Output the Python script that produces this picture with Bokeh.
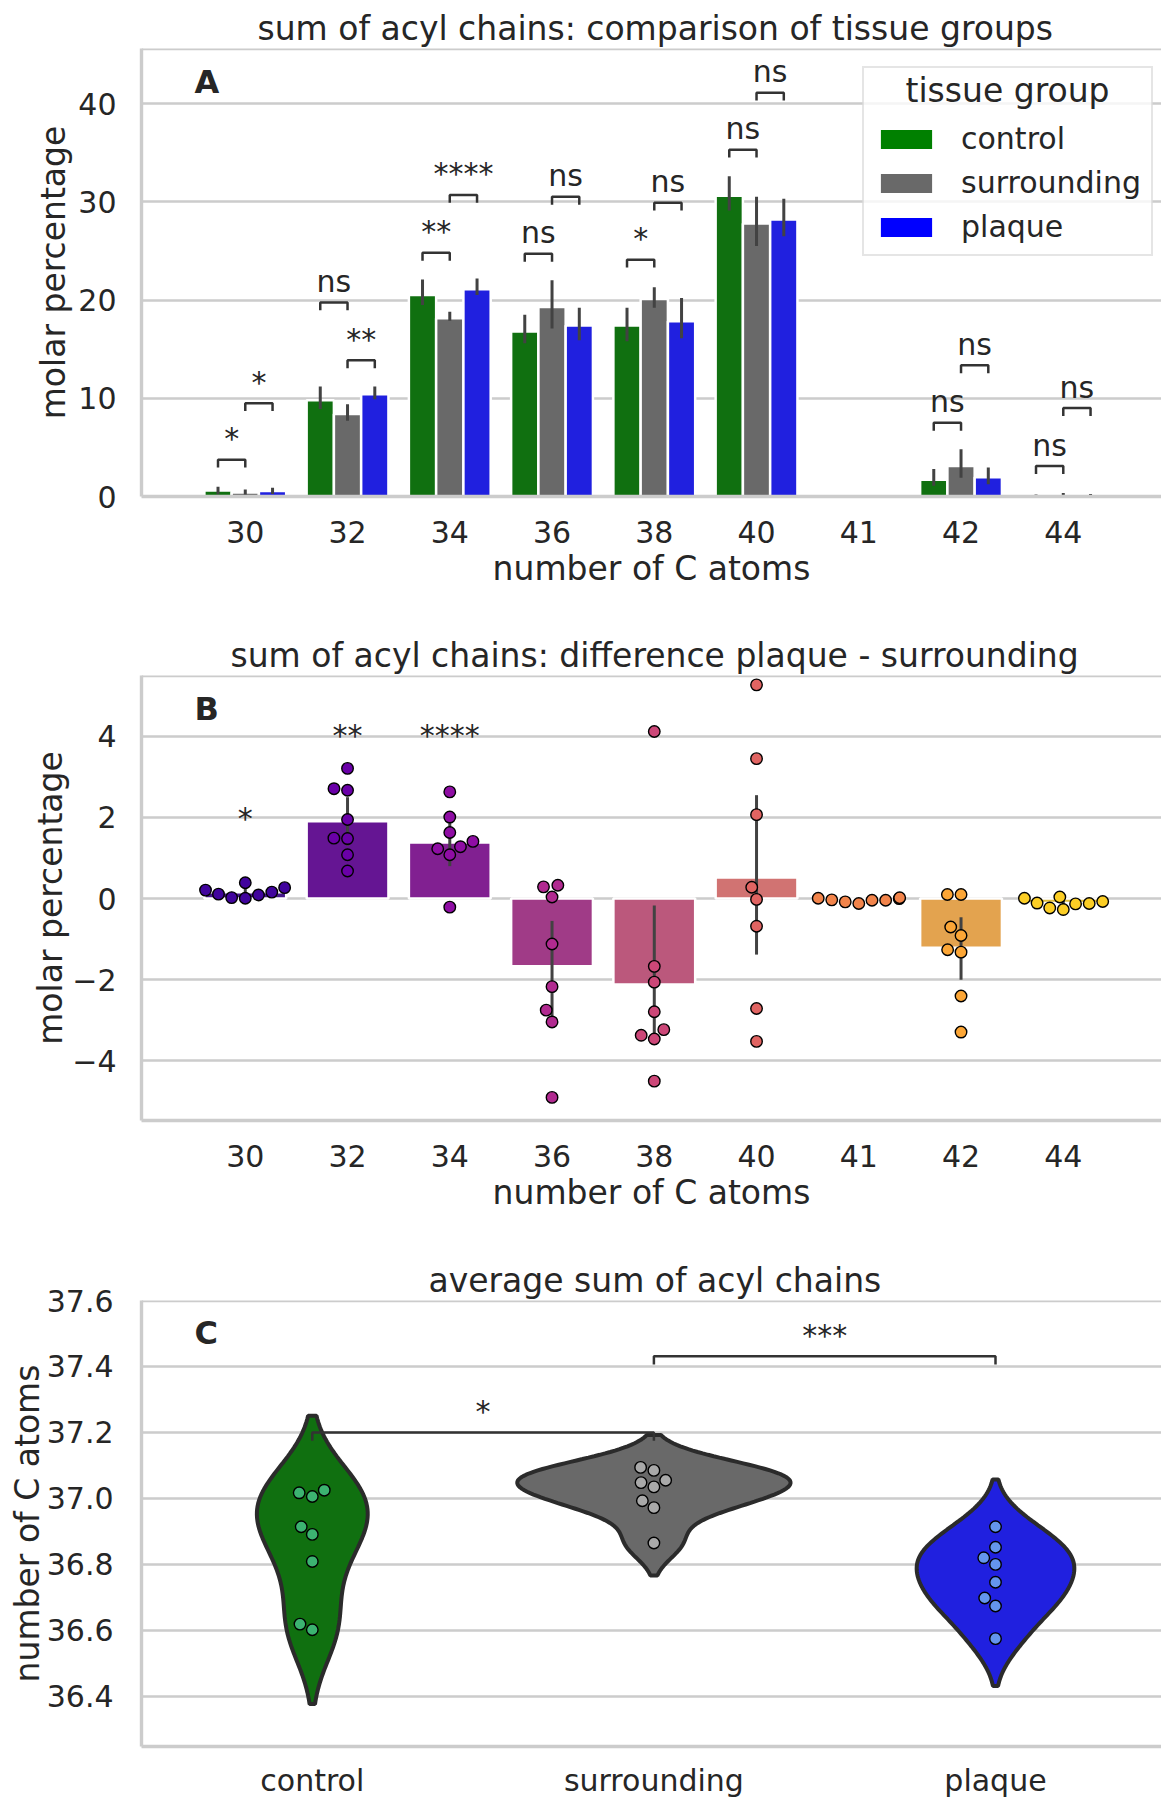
import colorsys
import numpy as np
from bokeh.plotting import figure
from bokeh.layouts import column
from bokeh.models import (FixedTicker, CustomJSTickFormatter, Legend, LegendItem, Span,
                          Range1d, Label)
from bokeh.core.properties import value
from bokeh.embed import file_html
from bokeh.resources import INLINE

# ---------------------------------------------------------------- data
carbon_numbers = ["30", "32", "34", "36", "38", "40", "41", "42", "44"]
tissue_groups = ["control", "surrounding", "plaque"]
legend_title = "tissue group"

# panel A: mean molar percentage with 95% CI per tissue group
control_mean = [0.6, 9.8, 20.5, 16.8, 17.4, 30.6, 0.05, 1.7, 0.1]
control_lo = [0.2, 8.9, 19.5, 15.6, 15.8, 29.1, 0.0, 1.1, 0.0]
control_hi = [1.0, 11.2, 22.1, 18.5, 19.2, 32.6, 0.1, 2.8, 0.2]
surrounding_mean = [0.4, 8.4, 18.15, 19.3, 20.1, 27.8, 0.05, 3.1, 0.15]
surrounding_lo = [0.15, 7.7, 17.9, 17.1, 19.2, 25.5, 0.0, 1.9, 0.05]
surrounding_hi = [0.7, 9.4, 18.8, 22.0, 21.3, 30.5, 0.15, 4.8, 0.35]
plaque_mean = [0.55, 10.4, 21.1, 17.4, 17.85, 28.2, 0.05, 1.95, 0.1]
plaque_lo = [0.25, 9.9, 20.5, 15.9, 16.1, 26.5, 0.0, 1.25, 0.0]
plaque_hi = [0.9, 11.2, 22.2, 19.2, 20.2, 30.3, 0.1, 2.95, 0.25]

# panel A: significance brackets
bracket_cat = ["30", "30", "32", "32", "34", "34", "36", "36", "38", "38",
               "40", "40", "42", "42", "44", "44"]
bracket_from = ["control", "surrounding"] * 8
bracket_to = ["surrounding", "plaque"] * 8
bracket_y = [3.75, 9.5, 19.75, 13.86, 24.8, 30.7, 24.7, 30.5, 24.1, 29.9,
             35.3, 41.1, 7.5, 13.35, 3.1, 9.0]
bracket_text = ["*", "*", "ns", "**", "**", "****", "ns", "ns", "*", "ns",
                "ns", "ns", "ns", "ns", "ns", "ns"]

# panel B: difference plaque - surrounding per sample
diff_values = {
    "30": [0.21, 0.11, 0.025, 0.008, 0.39, 0.09, 0.16, 0.27],
    "32": [3.21, 2.71, 2.67, 1.95, 1.49, 1.48, 1.08, 0.68],
    "34": [2.63, 2.01, 1.63, 1.23, 1.28, 1.41, 1.08, -0.21],
    "36": [0.29, 0.33, 0.04, -1.12, -2.17, -2.75, -3.04, -4.9],
    "38": [4.12, -1.67, -2.06, -2.79, -3.37, -3.23, -3.46, -4.5],
    "40": [5.27, 3.45, 2.07, 0.28, -0.02, -0.68, -2.71, -3.52],
    "41": [0.0, -0.04, -0.08, -0.12, -0.04, -0.03, 0.01, 0.02],
    "42": [0.1, 0.1, -0.7, -0.91, -1.26, -1.32, -2.4, -3.29],
    "44": [0.01, -0.11, -0.23, -0.27, -0.13, -0.12, -0.07, 0.04],
}
diff_ci_lo = [0.08, 1.3, 0.8, -3.05, -3.45, -1.38, -0.07, -2.0, -0.17]
diff_ci_hi = [0.25, 2.5, 1.9, -0.55, -0.17, 2.55, -0.01, -0.46, -0.05]
diff_sig_cat = ["30", "32", "34"]
diff_sig_y = [1.97, 4.03, 4.03]
diff_sig_text = ["*", "**", "****"]

# panel C: average sum of acyl chains per sample
avg_values = {
    "control": [37.017, 37.006, 37.025, 36.914, 36.891, 36.809, 36.619, 36.602],
    "surrounding": [37.094, 37.085, 37.055, 37.048, 37.035, 36.993, 36.972, 36.865],
    "plaque": [36.914, 36.852, 36.820, 36.800, 36.746, 36.698, 36.674, 36.575],
}
c_bracket_from = ["control", "surrounding"]
c_bracket_to = ["surrounding", "plaque"]
c_bracket_y = [37.2, 37.431]
c_bracket_text = ["*", "***"]

yticks_a = [0, 10, 20, 30, 40]
yticks_b = [-4, -2, 0, 2, 4]
yticks_c = [36.4, 36.6, 36.8, 37.0, 37.2, 37.4, 37.6]

# ---------------------------------------------------------------- style
FONT = "DejaVu Sans"
TXT = "#262626"
GRID = "#cccccc"
ERR = "#424242"
BRK = "#333333"
group_colors = {"control": "#008000", "surrounding": "#696969", "plaque": "#0000ff"}
point_colors_c = {"control": "#3cb371", "surrounding": "#a9a9a9", "plaque": "#6495ed"}
plasma9 = ["#41049d", "#6a00a8", "#8f0da4", "#b12a90", "#cc4778",
           "#e16462", "#f2844b", "#fca636", "#fcce25"]


def desat(hexcol, prop=0.75):
    r, g, b = (int(hexcol[i:i + 2], 16) / 255 for i in (1, 3, 5))
    h, l, s = colorsys.rgb_to_hls(r, g, b)
    r, g, b = colorsys.hls_to_rgb(h, l, s * prop)
    return "#%02x%02x%02x" % (round(r * 255), round(g * 255), round(b * 255))


W = 1161
LEFT = 141
FRAME_W = W - LEFT
PPU_X_AB = 102.25           # pixels per category (panels A, B)
PPU_X_C = 341.6
XA0 = -1.015
XC0 = -0.5


def style(p, offset, ytick_standoff, ylabel_standoff):
    p.title.text_font = FONT
    p.title.text_font_size = "33px"
    p.title.text_font_style = "normal"
    p.title.text_color = TXT
    p.title.align = "left"
    p.title.offset = offset
    p.title.standoff = 2
    p.outline_line_color = None
    p.background_fill_color = "white"
    p.border_fill_color = "white"
    p.xgrid.visible = False
    p.ygrid.grid_line_color = GRID
    p.ygrid.grid_line_width = 2.7
    for ax in (p.xaxis[0], p.yaxis[0]):
        ax.axis_line_color = GRID
        ax.axis_line_width = 3.4
        ax.major_tick_line_color = None
        ax.minor_tick_line_color = None
        ax.major_label_text_font = FONT
        ax.major_label_text_font_size = "30px"
        ax.major_label_text_color = TXT
        ax.axis_label_text_font = FONT
        ax.axis_label_text_font_size = "33px"
        ax.axis_label_text_font_style = "normal"
        ax.axis_label_text_color = TXT
    p.xaxis[0].major_label_standoff = 18
    p.xaxis[0].axis_label_standoff = 3
    p.yaxis[0].major_label_standoff = ytick_standoff
    p.yaxis[0].axis_label_standoff = ylabel_standoff
    p.add_layout(Span(location=p.y_range.end, dimension="width",
                      line_color=GRID, line_width=3.4))


def panel_letter(p, letter, frame_h):
    xr, yr = p.x_range, p.y_range
    x = xr.start + 53 * (xr.end - xr.start) / FRAME_W
    y = yr.end - 33 * (yr.end - yr.start) / frame_h
    p.text(x=[x], y=[y], text=[letter], text_font=value(FONT), text_font_size="32px",
           text_font_style="bold", text_color=TXT, text_align="left",
           text_baseline="alphabetic")


def beeswarm(vals, ppu_y, r, half_px):
    v = np.asarray(vals, float)
    order = np.argsort(v, kind="stable")
    ys = v[order] * ppu_y
    swarm = [(0.0, ys[0], r)]
    for y in ys[1:]:
        neigh = []
        for (xj, yj, rj) in reversed(swarm):
            if (y - yj) < (r + rj):
                neigh.append((xj, yj, rj))
            else:
                break
        neigh = neigh[::-1]
        cands = [(0.0, y, r)]
        left_first = True
        for (xj, yj, rj) in neigh:
            dy = y - yj
            dx = np.sqrt(max((r + rj) ** 2 - dy ** 2, 0)) * 1.05
            cl, cr = (xj - dx, y, r), (xj + dx, y, r)
            cands.extend([cl, cr] if left_first else [cr, cl])
            left_first = not left_first
        cands.sort(key=lambda c: abs(c[0]))
        chosen = cands[0]
        if neigh:
            for c in cands:
                if all((c[0] - xj) ** 2 + (c[1] - yj) ** 2 >= (c[2] + rj) ** 2
                       for xj, yj, rj in neigh):
                    chosen = c
                    break
        swarm.append(chosen)
    xs = np.clip(np.array([s[0] for s in swarm]), -half_px, half_px)
    out = np.empty(len(v))
    out[order] = xs
    return out


cat_idx = {c: i for i, c in enumerate(carbon_numbers)}
cat_fmt = CustomJSTickFormatter(args=dict(labels=carbon_numbers),
                                code="return labels[Math.round(tick)] || '';")
minus_fmt = CustomJSTickFormatter(
    code="return tick < 0 ? '\u2212' + (-tick) : '' + tick;")

# ================================================================ panel A
HA, TOPA, FHA = 604, 48, 448
YA = (0, 45.6)
pA = figure(width=W, height=HA, output_backend="svg", toolbar_location=None,
            x_range=Range1d(XA0, XA0 + FRAME_W / PPU_X_AB), y_range=Range1d(*YA),
            min_border_left=LEFT, min_border_right=0, min_border_top=TOPA,
            min_border_bottom=HA - TOPA - FHA,
            title="sum of acyl chains: comparison of tissue groups")
style(pA, 116, 19, 2)
pA.xaxis[0].ticker = FixedTicker(ticks=list(range(len(carbon_numbers))))
pA.xaxis[0].formatter = cat_fmt
pA.yaxis[0].ticker = FixedTicker(ticks=yticks_a)
pA.xaxis[0].axis_label = "number of C atoms"
pA.yaxis[0].axis_label = "molar percentage"

# legend box geometry (screen px inside the frame)
LG_LEFT, LG_W, LG_BOTTOM, LG_TOP = 721, 290, 241, FHA - 17
ppu_ya = FHA / (YA[1] - YA[0])
# translucent white backing of the legend box
pA.quad(left=[XA0 + LG_LEFT / PPU_X_AB], right=[XA0 + (LG_LEFT + LG_W) / PPU_X_AB],
        bottom=[LG_BOTTOM / ppu_ya], top=[LG_TOP / ppu_ya],
        fill_color="white", fill_alpha=0.8, line_color=None)

BW = 0.8 / 3
dodge = {"control": -BW, "surrounding": 0.0, "plaque": BW}
series = {"control": (control_mean, control_lo, control_hi),
          "surrounding": (surrounding_mean, surrounding_lo, surrounding_hi),
          "plaque": (plaque_mean, plaque_lo, plaque_hi)}
base_x = np.arange(len(carbon_numbers))
legend_items = []
for g in tissue_groups:
    m, lo, hi = series[g]
    xs = base_x + dodge[g]
    pA.vbar(x=xs, top=m, bottom=0, width=BW, fill_color=desat(group_colors[g]),
            line_color="white", line_width=2.5)
    pA.segment(x0=xs, y0=lo, x1=xs, y1=hi, line_color=ERR, line_width=3)
    # legend swatch only (not drawn in the plot: NaN position)
    dummy = pA.vbar(x=[np.nan], top=[np.nan], width=BW, fill_color=group_colors[g],
                    line_color=None)
    legend_items.append(LegendItem(label=g, renderers=[dummy]))

leg = 0.8
bx, by, tx, ty = [], [], [], []
for c, f, t, y in zip(bracket_cat, bracket_from, bracket_to, bracket_y):
    x0 = cat_idx[c] + dodge[f]
    x1 = cat_idx[c] + dodge[t]
    bx.append([x0, x0, x1, x1])
    by.append([y - leg, y, y, y - leg])
    tx.append((x0 + x1) / 2)
    ty.append(y)
pA.multi_line(xs=bx, ys=by, line_color=BRK, line_width=2.5)
pA.text(x=tx, y=ty, text=bracket_text, text_font=value(FONT), text_font_size="30px",
        text_color=TXT, text_align="center", text_baseline="alphabetic", y_offset=-21)

# centred legend title
pA.text(x=[XA0 + (LG_LEFT + LG_W / 2) / PPU_X_AB], y=[(496 - 90) / ppu_ya],
        text=[legend_title], text_font=value(FONT), text_font_size="33px",
        text_color=TXT, text_align="center", text_baseline="alphabetic")

legend = Legend(items=legend_items, location=(LG_LEFT, FHA - 16 - 192), title="\u00a0",
                title_text_font=FONT, title_text_font_size="33px",
                title_text_font_style="normal", title_text_color=TXT,
                label_text_font=FONT, label_text_font_size="30px", label_text_color=TXT,
                glyph_width=64, glyph_height=24, label_standoff=23, label_height=24,
                spacing=9, padding=10, margin=0, title_standoff=4,
                border_line_color=GRID, border_line_width=2,
                background_fill_color="white", background_fill_alpha=0.0)
pA.add_layout(legend)
panel_letter(pA, "A", FHA)

# ================================================================ panel B
HB, TOPB, FHB = 626, 71, 445
yb = (-5.47, 5.5)
pB = figure(width=W, height=HB, output_backend="svg", toolbar_location=None,
            x_range=Range1d(XA0, XA0 + FRAME_W / PPU_X_AB), y_range=Range1d(*yb),
            min_border_left=LEFT, min_border_right=0, min_border_top=TOPB,
            min_border_bottom=HB - TOPB - FHB,
            title="sum of acyl chains: difference plaque - surrounding")
style(pB, 89, 19, -1)
pB.xaxis[0].ticker = FixedTicker(ticks=list(range(len(carbon_numbers))))
pB.xaxis[0].formatter = cat_fmt
pB.yaxis[0].ticker = FixedTicker(ticks=yticks_b)
pB.yaxis[0].formatter = minus_fmt
pB.xaxis[0].axis_label = "number of C atoms"
pB.yaxis[0].axis_label = "molar percentage"

means_b = [float(np.mean(diff_values[c])) for c in carbon_numbers]
pB.vbar(x=base_x, top=means_b, bottom=0, width=0.8,
        fill_color=[desat(c) for c in plasma9], line_color="white", line_width=2.5)
pB.segment(x0=base_x, y0=diff_ci_lo, x1=base_x, y1=diff_ci_hi, line_color=ERR,
           line_width=3)
ppu_yb = FHB / (yb[1] - yb[0])
px, py, pc = [], [], []
for i, c in enumerate(carbon_numbers):
    offs = beeswarm(diff_values[c], ppu_yb, 6.5, 0.4 * PPU_X_AB)
    px.extend(list(i + offs / PPU_X_AB))
    py.extend(diff_values[c])
    pc.extend([plasma9[i]] * len(diff_values[c]))
pB.scatter(x=px, y=py, size=11.5, fill_color=pc, line_color="black", line_width=1.4)
pB.text(x=[cat_idx[c] for c in diff_sig_cat], y=diff_sig_y, text=diff_sig_text,
        text_font=value(FONT), text_font_size="30px", text_color=TXT,
        text_align="center", text_baseline="alphabetic")
panel_letter(pB, "B", FHB)

# ================================================================ panel C
HC, TOPC, FHC = 570, 70, 447
yc = (36.248, 37.6)
pC = figure(width=W, height=HC, output_backend="svg", toolbar_location=None,
            x_range=Range1d(XC0, XC0 + FRAME_W / PPU_X_C), y_range=Range1d(*yc),
            min_border_left=LEFT, min_border_right=0, min_border_top=TOPC,
            min_border_bottom=HC - TOPC - FHC,
            title="average sum of acyl chains")
style(pC, 287, 22, -3)
pC.xaxis[0].ticker = FixedTicker(ticks=[0, 1, 2])
pC.xaxis[0].formatter = CustomJSTickFormatter(args=dict(labels=tissue_groups),
                                              code="return labels[Math.round(tick)] || '';")
pC.xaxis[0].major_label_standoff = 10
pC.yaxis[0].ticker = FixedTicker(ticks=yticks_c)
pC.yaxis[0].formatter = CustomJSTickFormatter(code="return tick.toFixed(1);")
pC.yaxis[0].axis_label = "number of C atoms"

kdes = {}
for g in tissue_groups:
    v = np.asarray(avg_values[g])
    n = len(v)
    bw = v.std(ddof=1) * n ** (-0.2)
    grid = np.linspace(v.min() - 2 * bw, v.max() + 2 * bw, 100)
    dens = np.exp(-0.5 * ((grid[:, None] - v[None, :]) / bw) ** 2).sum(1) / (
        n * bw * np.sqrt(2 * np.pi))
    kdes[g] = (grid, dens)
dmax = max(d.max() for _, d in kdes.values())
for i, g in enumerate(tissue_groups):
    grid, dens = kdes[g]
    hw = dens / dmax * 0.4
    xs = np.concatenate([i + hw, (i - hw)[::-1]])
    ys = np.concatenate([grid, grid[::-1]])
    pC.patch(x=xs, y=ys, fill_color=desat(group_colors[g]), line_color="#2b2b2b",
             line_width=4)

ppu_yc = FHC / (yc[1] - yc[0])
for i, g in enumerate(tissue_groups):
    offs = beeswarm(avg_values[g], ppu_yc, 6.5, 0.4 * PPU_X_C)
    pC.scatter(x=i + offs / PPU_X_C, y=avg_values[g], size=11.5,
               fill_color=point_colors_c[g], line_color="black", line_width=1.4)

gidx = {g: i for i, g in enumerate(tissue_groups)}
legc = 0.025
cbx, cby, ctx = [], [], []
for f, t, y in zip(c_bracket_from, c_bracket_to, c_bracket_y):
    x0, x1 = gidx[f], gidx[t]
    cbx.append([x0, x0, x1, x1])
    cby.append([y - legc, y, y, y - legc])
    ctx.append((x0 + x1) / 2)
pC.multi_line(xs=cbx, ys=cby, line_color=BRK, line_width=2.5)
pC.text(x=ctx, y=c_bracket_y, text=c_bracket_text, text_font=value(FONT),
        text_font_size="30px", text_color=TXT, text_align="center",
        text_baseline="alphabetic", y_offset=-21)
panel_letter(pC, "C", FHC)

layout = column(pA, pB, pC, spacing=0)
open("out.html", "w").write(file_html(layout, INLINE))
